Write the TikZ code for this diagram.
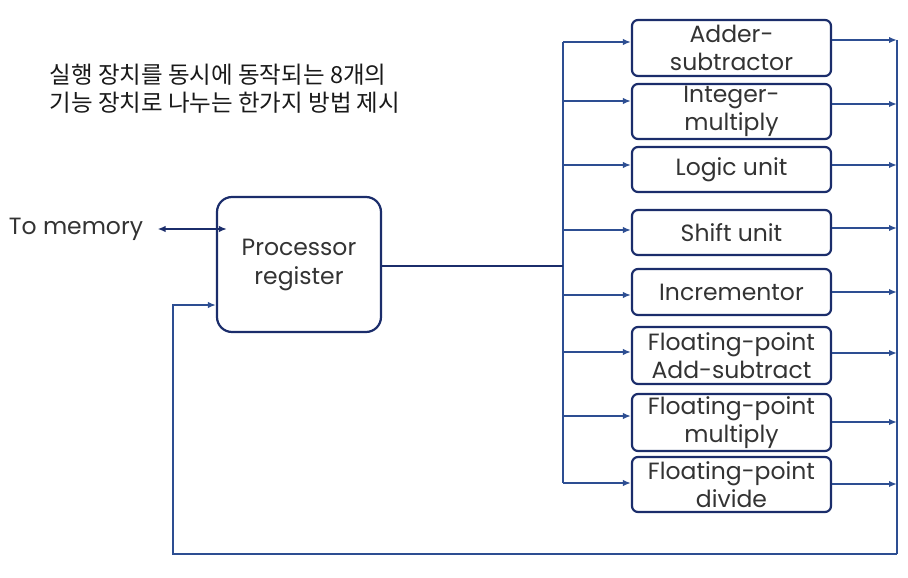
\documentclass[tikz,border=0pt]{standalone}
\usepackage{fontspec}
\setmainfont{Poppins}
\newfontfamily\kofont{Noto Sans CJK KR}
\usetikzlibrary{arrows.meta}
\definecolor{boxblue}{HTML}{1B2D6B}
\definecolor{lineblue}{HTML}{2D4E92}
\begin{document}
\begin{tikzpicture}[x=1pt, y=-1pt,
    unit/.style={draw=boxblue, line width=2.2pt, rounded corners=6pt, minimum width=199pt, inner sep=0pt, align=center, text=black!80, font=\fontsize{23.5}{28}\selectfont},
    link/.style={draw=lineblue, line width=1.8pt, -{Latex[length=8pt,width=6.5pt]}},
    bus/.style={draw=lineblue, line width=1.8pt}]
    \useasboundingbox (0,0) rectangle (908,578);

    \node (title) at (46,89) [anchor=west, align=left, text=black!90, font=\kofont\fontsize{23.5}{28}\selectfont] {실행 장치를 동시에 동작되는 8개의\\기능 장치로 나누는 한가지 방법 제시};
    \node (mem) at (76,229) [text=black!80, font=\fontsize{23.5}{28}\selectfont] {To memory};
    \node (P) at (299,264.5) [draw=boxblue, line width=2.2pt, rounded corners=15pt, minimum width=164pt, minimum height=135pt, align=center, text=black!80, font=\fontsize{23.5}{29}\selectfont] {Processor\\register};

    % memory <-> register
    \draw[draw=boxblue, line width=1.8pt, {Latex[length=8pt,width=6.5pt]}-{Latex[length=8pt,width=6.5pt]}] ([xshift=11pt]mem.east) -- ([xshift=11pt]mem.east -| P.west);

    % functional units, bus -> unit -> output line
    \foreach \n/\y/\h/\t/\yi/\yo in {
        A/48/56/{Adder-\\subtractor}/42/40,
        B/111.5/55/{Integer-\\multiply}/101/104,
        C/169.5/45/{Logic unit}/165/165,
        D/232.5/45/{Shift unit}/230/228,
        E/292/46/{Incrementor}/295/292,
        F/355.5/57/{Floating-point\\Add-subtract}/352/353,
        G/422.5/57/{Floating-point\\multiply}/416/422,
        H/484.5/55/{Floating-point\\divide}/483/484} {
        \node (\n) at (731.5,\y) [unit, minimum height=\h pt] {\t};
        \coordinate (i\n) at (563,\yi);
        \coordinate (o\n) at (897,\yo);
        \draw[link] (i\n) -- (i\n -| \n.west);
        \draw[link] (\n.east |- o\n) -- (o\n);
    }

    % register -> bus
    \coordinate (join) at (563,266);
    \draw[bus] (iA) -- (iH);
    \draw[bus, draw=boxblue] (P.east |- join) -- (join);

    % outputs back to register
    \coordinate (obot) at (897,554);
    \coordinate (ret) at (173,305);
    \draw[bus] (oA) -- (obot);
    \draw[link] (obot) -| (ret) -- (ret -| P.west);
\end{tikzpicture}
\end{document}
